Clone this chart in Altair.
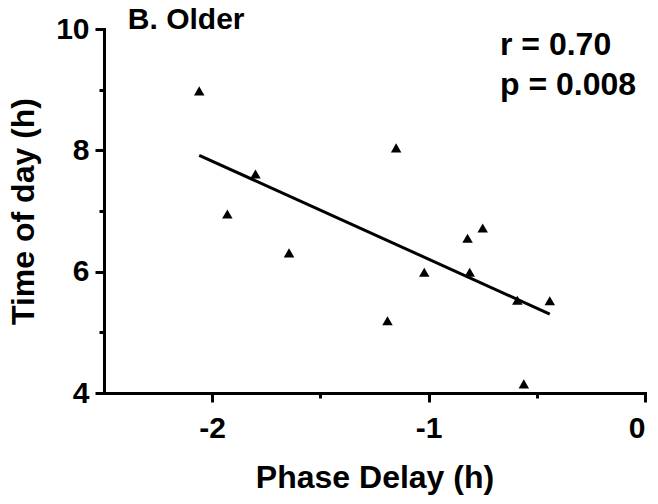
import altair as alt
import pandas as pd

phase_delay = [-2.06, -1.80, -1.93, -1.645, -1.15, -0.82, -0.75, -1.02, -0.81, -0.59, -0.44, -1.19, -0.56]
time_of_day = [8.98, 7.61, 6.95, 6.31, 8.04, 6.55, 6.72, 5.99, 5.99, 5.53, 5.52, 5.19, 4.15]

x_major = [-2, -1, 0]
x_minor = [-1.5, -0.5]
y_major = [4, 6, 8, 10]
y_minor = [5, 7, 9]

panel_label = ["B. Older"]
panel_x = [-2.39]
panel_y = [10.0]

stats_text = ["r = 0.70", "p = 0.008"]
stats_x = [-0.67, -0.67]
stats_y = [9.57, 8.92]

df = pd.DataFrame({"x": phase_delay, "y": time_of_day})
df_panel = pd.DataFrame({"x": panel_x, "y": panel_y, "t": panel_label})
df_stats = pd.DataFrame({"x": stats_x, "y": stats_y, "t": stats_text})

FONT = "Liberation Sans"
xscale = alt.Scale(domain=[-2.5, 0], nice=False, zero=False)
yscale = alt.Scale(domain=[4, 10], nice=False, zero=False)

points = alt.Chart(df).mark_point(
    shape="triangle-up", filled=True, size=110, color="black", opacity=1
).encode(
    x=alt.X("x:Q", scale=xscale, axis=alt.Axis(
        orient="bottom", values=x_major, title="Phase Delay (h)", tickSize=9,
        labelPadding=11, titlePadding=19, labelExpr="'' + datum.value")),
    y=alt.Y("y:Q", scale=yscale, axis=alt.Axis(
        orient="left", values=y_major, title="Time of day (h)", tickSize=9,
        labelPadding=6, titlePadding=15, labelExpr="'' + datum.value")),
)

line = alt.Chart(df).transform_regression("x", "y").mark_line(
    color="black", strokeWidth=3
).encode(
    x=alt.X("x:Q", scale=xscale, axis=alt.Axis(
        orient="bottom", values=x_minor, labels=False, title=None, tickSize=5, domain=False)),
    y=alt.Y("y:Q", scale=yscale, axis=alt.Axis(
        orient="left", values=y_minor, labels=False, title=None, tickSize=5, domain=False)),
)

panel = alt.Chart(df_panel).mark_text(
    font=FONT, fontWeight="bold", fontSize=30, align="left", baseline="alphabetic", color="black"
).encode(x=alt.X("x:Q", scale=xscale, axis=None), y=alt.Y("y:Q", scale=yscale, axis=None), text="t:N")

stats = alt.Chart(df_stats).mark_text(
    font=FONT, fontWeight="bold", fontSize=32, align="left", baseline="alphabetic", color="black"
).encode(x=alt.X("x:Q", scale=xscale, axis=None), y=alt.Y("y:Q", scale=yscale, axis=None), text="t:N")

chart = alt.layer(points, line, panel, stats).resolve_axis(
    x="independent", y="independent"
).properties(
    width=541, height=364,
    autosize=alt.AutoSizeParams(type="none"),
    padding={"left": 96, "top": 21, "right": 5, "bottom": 103},
).configure_view(stroke=None).configure_axis(
    grid=False, domainColor="black", domainWidth=3, tickColor="black", tickWidth=3,
    labelFont=FONT, labelFontWeight="bold", labelFontSize=30, labelColor="black",
    titleFont=FONT, titleFontWeight="bold", titleFontSize=32, titleColor="black",
    domainCap="square",
)

chart.save("out.html", embed_options={"renderer": "svg", "actions": False})
